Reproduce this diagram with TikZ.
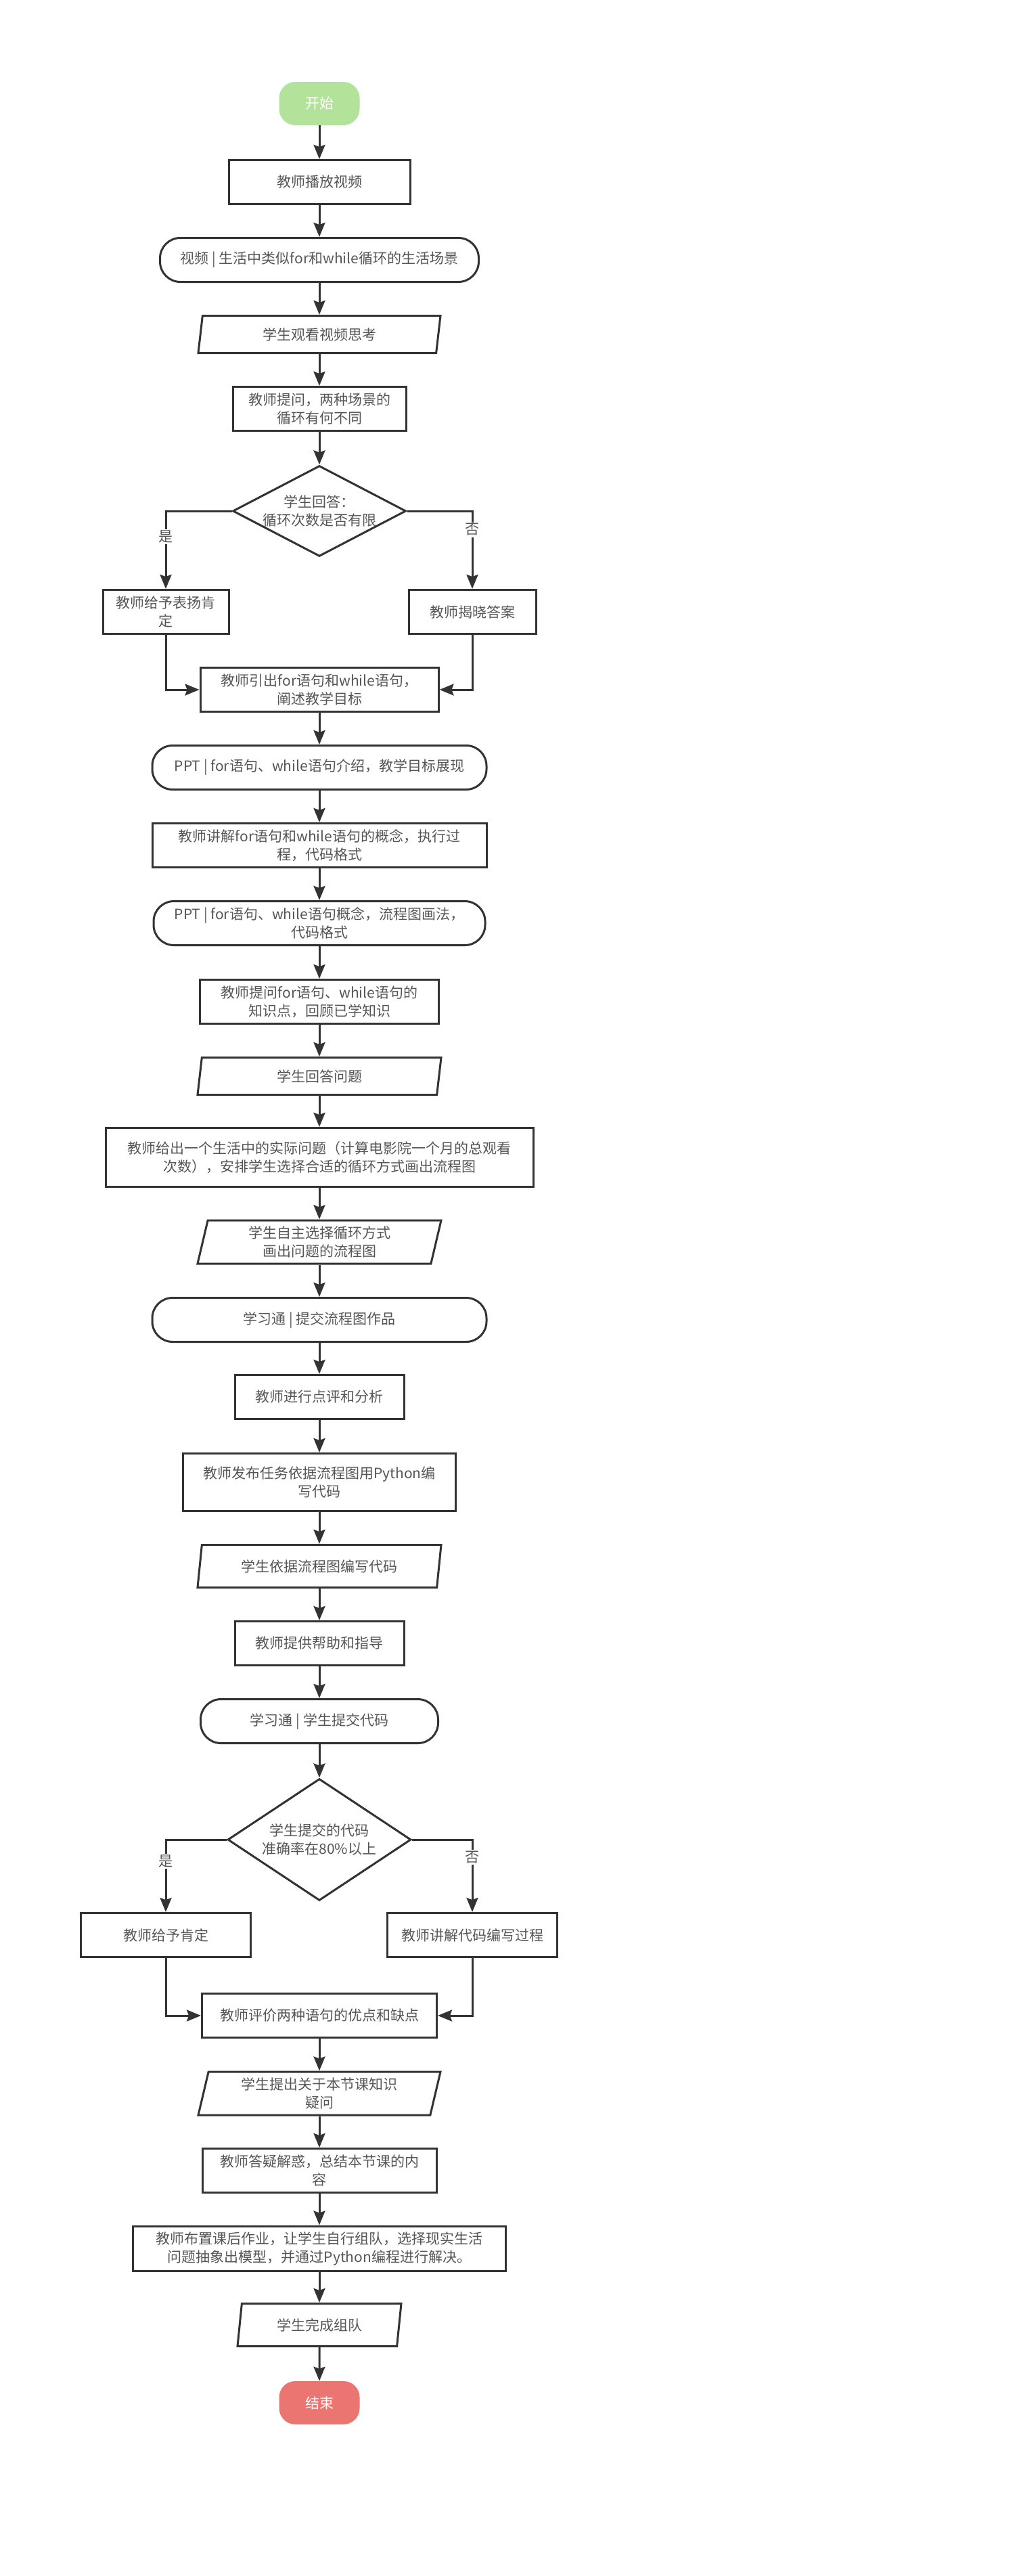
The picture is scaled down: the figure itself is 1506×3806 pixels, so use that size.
\documentclass[tikz,border=0pt]{standalone}
\usepackage{fontspec}
\setmainfont{Noto Sans CJK SC}
\usetikzlibrary{shapes.geometric,arrows.meta}
\definecolor{linegray}{HTML}{333333}
\definecolor{textgray}{HTML}{555555}
\definecolor{startgreen}{HTML}{B3E29A}
\definecolor{stopred}{HTML}{EA7571}
\begin{document}
\begin{tikzpicture}[x=1pt,y=-1pt,
    every node/.style={font=\fontsize{21}{27}\selectfont,text=textgray,align=center,inner sep=0pt},
    terminal/.style={fill=#1,text=white,rounded corners=24pt,minimum width=119pt,minimum height=64pt},
    process/.style={draw=linegray,line width=3pt,minimum height=65pt},
    io/.style={draw=linegray,line width=3pt,trapezium,trapezium left angle=72,trapezium right angle=108,trapezium stretches body,minimum height=63pt},
    media/.style={draw=linegray,line width=3pt,rounded corners=30pt,minimum height=65pt},
    choice/.style={draw=linegray,line width=3pt,diamond},
    flow/.style={draw=linegray,line width=3pt,-{Stealth[length=21pt,width=17pt,inset=3pt]}},
    branch/.style={fill=white,inner sep=2pt}]
    \useasboundingbox (0,0) rectangle (1506,3806);
    %% opening
    \node[terminal=startgreen] (start) at (472,153) {开始};
    \node[process,minimum width=268pt] (play) at (472,269) {教师播放视频};
    \node[media,minimum width=471pt] (video) at (472,384) {视频 | 生活中类似for和while循环的生活场景};
    \node[io,minimum width=358pt,minimum height=55pt] (watch) at (472,494) {学生观看视频思考};
    \node[process,minimum width=256pt] (ask) at (472,604) {教师提问，两种场景的\\循环有何不同};
    %% first decision
    \node[choice,minimum width=256pt,minimum height=134pt,label={center:学生回答：\\循环次数是否有限}] (judgeA) at (472,755) {};
    \node[process,minimum width=186pt] (praiseA) at (245,904) {教师给予表扬肯\\定};
    \node[process,minimum width=188pt] (revealA) at (698,904) {教师揭晓答案};
    %% teaching
    \node[process,minimum width=352pt] (intro) at (472,1019) {教师引出for语句和while语句，\\阐述教学目标};
    \node[media,minimum width=494pt] (pptA) at (472,1134) {PPT | for语句、while语句介绍，教学目标展现};
    \node[process,minimum width=494pt] (explain) at (472,1249) {教师讲解for语句和while语句的概念，执行过\\程，代码格式};
    \node[media,minimum width=490pt] (pptB) at (472,1364) {PPT | for语句、while语句概念，流程图画法，\\代码格式};
    \node[process,minimum width=353pt] (review) at (472,1480) {教师提问for语句、while语句的\\知识点，回顾已学知识};
    \node[io,minimum width=360pt,minimum height=55pt] (answer) at (472,1590) {学生回答问题};
    \node[process,minimum width=632pt,minimum height=87pt] (task) at (472,1710) {教师给出一个生活中的实际问题（计算电影院一个月的总观看\\次数），安排学生选择合适的循环方式画出流程图};
    \node[io,minimum width=360pt,minimum height=64pt] (drawfc) at (472,1835) {学生自主选择循环方式\\画出问题的流程图};
    \node[media,minimum width=494pt] (submitfc) at (472,1950) {学习通 | 提交流程图作品};
    \node[process,minimum width=250pt] (comment) at (472,2064) {教师进行点评和分析};
    \node[process,minimum width=403pt,minimum height=85pt] (publish) at (472,2190) {教师发布任务依据流程图用Python编\\写代码};
    \node[io,minimum width=360pt] (coding) at (472,2314) {学生依据流程图编写代码};
    \node[process,minimum width=250pt] (help) at (472,2428) {教师提供帮助和指导};
    \node[media,minimum width=351pt] (submitcode) at (472,2543) {学习通 | 学生提交代码};
    %% second decision
    \node[choice,minimum width=271pt,minimum height=180pt,label={center:学生提交的代码\\准确率在80\%以上}] (judgeB) at (472,2718) {};
    \node[process,minimum width=251pt] (praiseB) at (245,2859) {教师给予肯定};
    \node[process,minimum width=251pt] (explainB) at (698,2859) {教师讲解代码编写过程};
    %% closing
    \node[process,minimum width=347pt] (evaluate) at (472,2978) {教师评价两种语句的优点和缺点};
    \node[io,minimum width=358pt,minimum height=64pt] (doubt) at (472,3093) {学生提出关于本节课知识\\疑问};
    \node[process,minimum width=346pt] (summary) at (472,3207) {教师答疑解惑，总结本节课的内\\容};
    \node[process,minimum width=551pt,minimum height=66pt] (homework) at (472,3322) {教师布置课后作业，让学生自行组队，选择现实生活\\问题抽象出模型，并通过Python编程进行解决。};
    \node[io,minimum width=242pt] (team) at (472,3435) {学生完成组队};
    \node[terminal=stopred] (finish) at (472,3550) {结束};
    %% connectors
    \foreach \a/\b in {start/play,play/video,video/watch,watch/ask,ask/judgeA,
        intro/pptA,pptA/explain,explain/pptB,pptB/review,review/answer,answer/task,
        task/drawfc,drawfc/submitfc,submitfc/comment,comment/publish,publish/coding,
        coding/help,help/submitcode,submitcode/judgeB,
        evaluate/doubt,doubt/summary,summary/homework,homework/team,team/finish}
        \draw[flow] (\a) -- (\b);
    \draw[flow] (judgeA.west) -| node[branch,pos=0.665] {是} (praiseA.north);
    \draw[flow] (judgeA.east) -| node[branch,pos=0.62] {否} (revealA.north);
    \draw[flow] (praiseA.south) |- (intro.west);
    \draw[flow] (revealA.south) |- (intro.east);
    \draw[flow] (judgeB.west) -| node[branch,pos=0.65] {是} (praiseB.north);
    \draw[flow] (judgeB.east) -| node[branch,pos=0.62] {否} (explainB.north);
    \draw[flow] (praiseB.south) |- (evaluate.west);
    \draw[flow] (explainB.south) |- (evaluate.east);
\end{tikzpicture}
\end{document}
